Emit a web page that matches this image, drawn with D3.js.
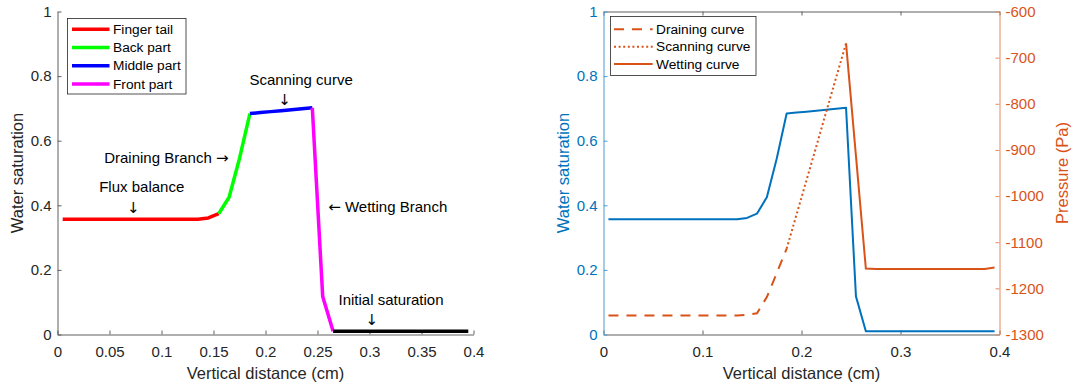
<!DOCTYPE html>
<html>
<head>
<meta charset="utf-8">
<script src="https://cdn.jsdelivr.net/npm/d3@7"></script>
<style>
    body { margin: 0; background: #fff; }
    svg { display: block; font-family: "Liberation Sans", Arial, sans-serif; }
</style>
</head>
<body>
<svg id="chart" width="1072" height="387"></svg>
<script>
// values (x in cm, saturation 0..1, pressure in Pa)
const distance = [0.005, 0.015, 0.025, 0.035, 0.045, 0.055, 0.065, 0.075, 0.085, 0.095,
    0.105, 0.115, 0.125, 0.135, 0.145, 0.155, 0.165, 0.175, 0.185, 0.195,
    0.205, 0.215, 0.225, 0.235, 0.245, 0.255, 0.265, 0.275, 0.285, 0.295,
    0.305, 0.315, 0.325, 0.335, 0.345, 0.355, 0.365, 0.375, 0.385, 0.395];
const saturation = [0.357, 0.357, 0.357, 0.357, 0.357, 0.357, 0.357, 0.357, 0.357, 0.357,
    0.357, 0.357, 0.357, 0.357, 0.361, 0.374, 0.425, 0.545, 0.684, 0.687,
    0.690, 0.693, 0.696, 0.699, 0.702, 0.118, 0.010, 0.010, 0.010, 0.010,
    0.010, 0.010, 0.010, 0.010, 0.010, 0.010, 0.010, 0.010, 0.010, 0.010];
const pressure = [-1259, -1259, -1259, -1259, -1259, -1259, -1259, -1259, -1259, -1259,
    -1259, -1259, -1259, -1259, -1257, -1254, -1219, -1167, -1114, -1040,
    -966, -892, -817, -743, -669, -913, -1157, -1158, -1158, -1158,
    -1158, -1158, -1158, -1158, -1158, -1158, -1158, -1158, -1158, -1155];

// left panel: parts of the finger (index ranges into the arrays above)
const partNames = ['Finger tail', 'Back part', 'Middle part', 'Front part', 'Initial'];
const partBreaks = [0, 15, 18, 24, 26, 39];
const partInLegend = [true, true, true, true, false];

// right panel: branches of the pressure curve
const branchNames = ['Draining curve', 'Scanning curve', 'Wetting curve'];
const branchBreaks = [0, 18, 24, 39];

const annotationTexts = ['Scanning curve', '\u2193', 'Draining Branch \u2192', 'Flux balance', '\u2193',
    '\u2190 Wetting Branch', 'Initial saturation', '\u2193'];

const leftXTicks = [0, 0.05, 0.1, 0.15, 0.2, 0.25, 0.3, 0.35, 0.4];
const rightXTicks = [0, 0.1, 0.2, 0.3, 0.4];
const saturationTicks = [0, 0.2, 0.4, 0.6, 0.8, 1];
const pressureTicks = [-1300, -1200, -1100, -1000, -900, -800, -700, -600];

// ---- layout / style ----
const AXIS_GREY = '#606060';
const TEXT_GREY = '#262626';
const BLUE = '#0072BD';
const ORANGE = '#D95319';
const PART_COLORS = ['#ff0000', '#00ff00', '#0000ff', '#ff00ff', '#000000'];
const BRANCH_DASH = ['10,8', '2,2.6', null];
const ARROW_FONT = '"DejaVu Sans", sans-serif';

const LEFT = {x0: 57.5, x1: 473.5, y0: 334.5, y1: 11.5};
const RIGHT = {x0: 603.5, x1: 999.5, y0: 334.5, y1: 11.5};

// where each annotation sits, in data units of the left panel
const ANNOTATION_POS = [
    {x: 0.1845, y: 0.772, anchor: 'start'},
    {x: 0.2183, y: 0.726, anchor: 'middle', arrow: true},
    {x: 0.0449, y: 0.530, anchor: 'start'},
    {x: 0.0401, y: 0.441, anchor: 'start'},
    {x: 0.0728, y: 0.391, anchor: 'middle', arrow: true},
    {x: 0.2603, y: 0.379, anchor: 'start'},
    {x: 0.2702, y: 0.091, anchor: 'start'},
    {x: 0.3023, y: 0.045, anchor: 'middle', arrow: true}
];

const svg = d3.select('#chart');
const points = distance.map((d, i) => ({x: d, s: saturation[i], p: pressure[i]}));

function styleAxis(g, color, textColor, fontSize) {
    g.attr('font-family', null).attr('font-size', fontSize);
    g.selectAll('path.domain').attr('stroke', color).attr('stroke-width', 1);
    g.selectAll('.tick line').attr('stroke', color).attr('stroke-width', 1);
    g.selectAll('.tick text').attr('fill', textColor);
}

function tickText(d) {
    return String(+d.toFixed(3));
}

// arrows come out tiny in Liberation Sans, so they get their own font
function writeWithArrows(textNode, str) {
    str.split(/([\u2190-\u2193])/).filter(s => s.length).forEach(part => {
        const span = textNode.append('tspan').text(part);
        if (/[\u2190-\u2193]/.test(part)) {
            span.attr('font-family', ARROW_FONT);
        }
    });
}

function drawLeftPanel() {
    const {x0, x1, y0, y1} = LEFT;
    const x = d3.scaleLinear().domain([0, 0.4]).range([x0, x1]);
    const y = d3.scaleLinear().domain([0, 1]).range([y0, y1]);
    const g = svg.append('g');

    g.append('g')
        .attr('transform', `translate(0,${y0})`)
        .call(d3.axisBottom(x).tickValues(leftXTicks).tickFormat(tickText)
            .tickSize(-4).tickSizeOuter(0).tickPadding(12))
        .call(a => styleAxis(a, AXIS_GREY, TEXT_GREY, 15));

    g.append('g')
        .attr('transform', `translate(${x0},0)`)
        .call(d3.axisLeft(y).tickValues(saturationTicks).tickFormat(tickText)
            .tickSize(-4).tickSizeOuter(0).tickPadding(6))
        .call(a => styleAxis(a, AXIS_GREY, TEXT_GREY, 15));

    const line = d3.line().x(d => x(d.x)).y(d => y(d.s));

    partNames.forEach((name, i) => {
        g.append('path')
            .datum(points.slice(partBreaks[i], partBreaks[i + 1] + 1))
            .attr('d', line)
            .attr('fill', 'none')
            .attr('stroke', PART_COLORS[i])
            .attr('stroke-width', 3.5)
            .attr('stroke-linejoin', 'round');
    });

    annotationTexts.forEach((txt, i) => {
        const pos = ANNOTATION_POS[i];
        const t = g.append('text')
            .attr('x', x(pos.x))
            .attr('y', y(pos.y))
            .attr('dy', pos.arrow ? '0.35em' : null)
            .attr('text-anchor', pos.anchor)
            .attr('font-size', 15)
            .attr('fill', '#000');
        writeWithArrows(t, txt);
    });

    // legend
    const legend = g.append('g');
    const entries = partNames.filter((n, i) => partInLegend[i]);
    legend.append('rect')
        .attr('x', 67.5).attr('y', 18.5).attr('width', 118.5).attr('height', 75.5)
        .attr('fill', '#fff').attr('stroke', TEXT_GREY).attr('stroke-width', 0.8);
    entries.forEach((name, i) => {
        const ry = 29.3 + i * 18.2;
        legend.append('line')
            .attr('x1', 72).attr('x2', 109.5).attr('y1', ry).attr('y2', ry)
            .attr('stroke', PART_COLORS[i]).attr('stroke-width', 3.5);
        legend.append('text')
            .attr('x', 113).attr('y', ry).attr('dy', '0.35em')
            .attr('font-size', 13.7).attr('fill', '#000')
            .text(name);
    });

    g.append('text')
        .attr('x', (x0 + x1) / 2).attr('y', 378.5)
        .attr('text-anchor', 'middle').attr('font-size', 16.5).attr('fill', TEXT_GREY)
        .text('Vertical distance (cm)');
    g.append('text')
        .attr('transform', `translate(17,${(y0 + y1) / 2}) rotate(-90)`)
        .attr('text-anchor', 'middle').attr('dy', '0.35em')
        .attr('font-size', 16.5).attr('fill', TEXT_GREY)
        .text('Water saturation');
}

function drawRightPanel() {
    const {x0, x1, y0, y1} = RIGHT;
    const x = d3.scaleLinear().domain([0, 0.4]).range([x0, x1]);
    const yS = d3.scaleLinear().domain([0, 1]).range([y0, y1]);
    const yP = d3.scaleLinear().domain([-1300, -600]).range([y0, y1]);
    const g = svg.append('g');

    g.append('g')
        .attr('transform', `translate(0,${y1})`)
        .call(d3.axisTop(x).tickValues(rightXTicks).tickFormat('')
            .tickSize(-4).tickSizeOuter(0))
        .call(a => styleAxis(a, AXIS_GREY, TEXT_GREY, 15));

    g.append('g')
        .attr('transform', `translate(0,${y0})`)
        .call(d3.axisBottom(x).tickValues(rightXTicks).tickFormat(tickText)
            .tickSize(-4).tickSizeOuter(0).tickPadding(12))
        .call(a => styleAxis(a, AXIS_GREY, TEXT_GREY, 15));

    g.append('g')
        .attr('transform', `translate(${x0},0)`)
        .call(d3.axisLeft(yS).tickValues(saturationTicks).tickFormat(tickText)
            .tickSize(-4).tickSizeOuter(0).tickPadding(6))
        .call(a => styleAxis(a, '#4f9bd2', BLUE, 15));

    g.append('g')
        .attr('transform', `translate(${x1},0)`)
        .call(d3.axisRight(yP).tickValues(pressureTicks).tickFormat(d => String(d))
            .tickSize(-4).tickSizeOuter(0).tickPadding(6))
        .call(a => styleAxis(a, '#e58a62', ORANGE, 15));

    g.append('path')
        .datum(points)
        .attr('d', d3.line().x(d => x(d.x)).y(d => yS(d.s)))
        .attr('fill', 'none')
        .attr('stroke', BLUE)
        .attr('stroke-width', 2)
        .attr('stroke-linejoin', 'round');

    const pLine = d3.line().x(d => x(d.x)).y(d => yP(d.p));
    branchNames.forEach((name, i) => {
        g.append('path')
            .datum(points.slice(branchBreaks[i], branchBreaks[i + 1] + 1))
            .attr('d', pLine)
            .attr('fill', 'none')
            .attr('stroke', ORANGE)
            .attr('stroke-width', 2)
            .attr('stroke-dasharray', BRANCH_DASH[i]);
    });

    // legend
    const legend = g.append('g');
    legend.append('rect')
        .attr('x', 610.5).attr('y', 16.5).attr('width', 145.5).attr('height', 59)
        .attr('fill', '#fff').attr('stroke', TEXT_GREY).attr('stroke-width', 0.8);
    branchNames.forEach((name, i) => {
        const ry = 29.3 + i * 17.4;
        legend.append('line')
            .attr('x1', 614).attr('x2', 652.7).attr('y1', ry).attr('y2', ry)
            .attr('stroke', ORANGE).attr('stroke-width', 2)
            .attr('stroke-dasharray', BRANCH_DASH[i]);
        legend.append('text')
            .attr('x', 656).attr('y', ry).attr('dy', '0.35em')
            .attr('font-size', 13.7).attr('fill', '#000')
            .text(name);
    });

    g.append('text')
        .attr('x', (x0 + x1) / 2).attr('y', 378.5)
        .attr('text-anchor', 'middle').attr('font-size', 16.5).attr('fill', TEXT_GREY)
        .text('Vertical distance (cm)');
    g.append('text')
        .attr('transform', `translate(563,${(y0 + y1) / 2}) rotate(-90)`)
        .attr('text-anchor', 'middle').attr('dy', '0.35em')
        .attr('font-size', 16.5).attr('fill', BLUE)
        .text('Water saturation');
    g.append('text')
        .attr('transform', `translate(1062,${(y0 + y1) / 2}) rotate(-90)`)
        .attr('text-anchor', 'middle').attr('dy', '0.35em')
        .attr('font-size', 16.5).attr('fill', ORANGE)
        .text('Pressure (Pa)');
}

drawLeftPanel();
drawRightPanel();
</script>
</body>
</html>
